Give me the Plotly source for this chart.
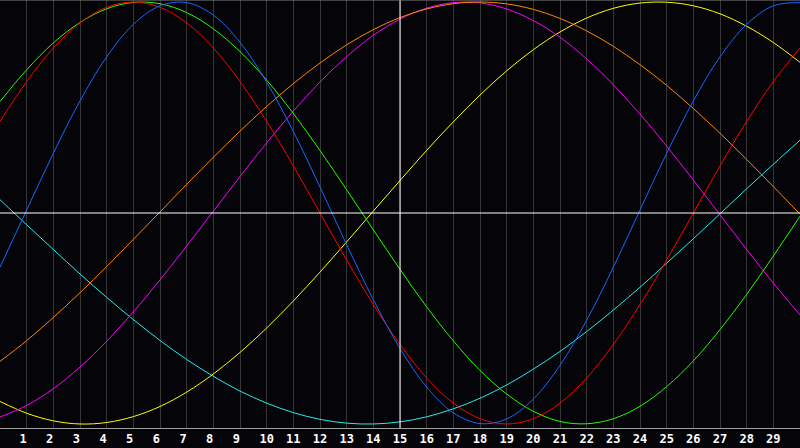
import plotly.graph_objects as go

# Day index along the x axis (0 = left edge, 30 = right edge)
days = list(range(0, 31))
tick_days = list(range(1, 30))
tick_labels = [str(d) if d >= 10 else str(d) + "\u00a0" for d in tick_days]

# Cycle values (-1 .. 1)
physical = [-0.257, 0.014, 0.283, 0.531, 0.740, 0.894, 0.982, 0.997, 0.938, 0.809,
            0.620, 0.386, 0.123, -0.150, -0.411, -0.642, -0.825, -0.947, -0.998, -0.976,
            -0.882, -0.722, -0.508, -0.257, 0.014, 0.283, 0.531, 0.740, 0.894, 0.982, 0.997]
emotional = [0.434, 0.623, 0.782, 0.901, 0.975, 1.000, 0.975, 0.901, 0.782, 0.623,
             0.434, 0.223, 0.000, -0.223, -0.434, -0.623, -0.782, -0.901, -0.975, -1.000,
             -0.975, -0.901, -0.782, -0.623, -0.434, -0.223, 0.000, 0.223, 0.434, 0.623, 0.782]
intellectual = [0.528, 0.679, 0.806, 0.903, 0.968, 0.998, 0.992, 0.950, 0.873, 0.765,
                0.630, 0.472, 0.296, 0.110, -0.080, -0.267, -0.445, -0.606, -0.746, -0.858,
                -0.940, -0.988, -0.999, -0.975, -0.916, -0.823, -0.701, -0.553, -0.386, -0.204, -0.015]
intuitive = [-0.967, -0.912, -0.833, -0.730, -0.608, -0.469, -0.317, -0.156, 0.008, 0.173,
             0.332, 0.483, 0.621, 0.741, 0.842, 0.919, 0.971, 0.997, 0.996, 0.967,
             0.912, 0.833, 0.730, 0.608, 0.469, 0.317, 0.156, -0.008, -0.173, -0.332, -0.483]
aesthetic = [-0.893, -0.949, -0.985, -1.000, -0.993, -0.965, -0.917, -0.849, -0.763, -0.661,
             -0.545, -0.417, -0.280, -0.137, 0.009, 0.154, 0.297, 0.432, 0.559, 0.674,
             0.774, 0.858, 0.924, 0.970, 0.995, 0.999, 0.982, 0.944, 0.885, 0.808, 0.714]
awareness = [-0.703, -0.605, -0.495, -0.378, -0.254, -0.125, 0.005, 0.136, 0.264, 0.388,
             0.505, 0.613, 0.711, 0.797, 0.869, 0.926, 0.967, 0.992, 1.000, 0.991,
             0.965, 0.922, 0.863, 0.790, 0.703, 0.605, 0.495, 0.378, 0.254, 0.125, -0.005]
spiritual = [0.063, -0.056, -0.173, -0.289, -0.400, -0.505, -0.604, -0.694, -0.774, -0.844,
             -0.901, -0.946, -0.978, -0.996, -1.000, -0.990, -0.966, -0.928, -0.878, -0.815,
             -0.740, -0.656, -0.562, -0.460, -0.352, -0.238, -0.122, -0.004, 0.115, 0.231, 0.345]

series = [
    ("Spiritual", spiritual, "#22eeee"),
    ("Aesthetic", aesthetic, "#ffff00"),
    ("Intuitive", intuitive, "#ff00ff"),
    ("Awareness", awareness, "#ff8800"),
    ("Intellectual", intellectual, "#22ff00"),
    ("Emotional", emotional, "#ff0000"),
    ("Physical", physical, "#1866ff"),
]

today = 15

fig = go.Figure()
for name, vals, color in series:
    fig.add_trace(go.Scatter(
        x=days, y=vals, mode="lines", name=name,
        line=dict(color=color, width=1, shape="spline", smoothing=1.0),
        hoverinfo="skip",
    ))

bg = "#050408"
fig.update_layout(
    width=800, height=448,
    margin=dict(l=0, r=0, t=0, b=20, pad=0),
    paper_bgcolor=bg, plot_bgcolor=bg,
    showlegend=False,
    xaxis=dict(
        range=[0, 30], tickvals=tick_days, ticktext=tick_labels,
        showgrid=True, gridcolor="#363636", gridwidth=1,
        zeroline=False, showline=True, linecolor="#a0a0a0", linewidth=1,
        ticks="", tickfont=dict(family="DejaVu Sans Mono", size=12, color="#ffffff", weight="bold"),
        fixedrange=True,
    ),
    yaxis=dict(
        range=[-1.019, 1.0095], showgrid=False, zeroline=False,
        showticklabels=False, ticks="", showline=True, linecolor="#808080", linewidth=1,
        fixedrange=True,
    ),
    shapes=[
        dict(type="line", xref="x", yref="paper", x0=today, x1=today, y0=0, y1=1,
             line=dict(color="#ffffff", width=1), layer="above"),
        dict(type="line", xref="paper", yref="y", x0=0, x1=1, y0=0, y1=0,
             line=dict(color="#ffffff", width=1), layer="above"),
        dict(type="line", xref="paper", yref="paper", x0=0, x1=1, y0=1, y1=1,
             line=dict(color="#808080", width=1), layer="above"),
    ],
)

fig.write_html(
    "out.html",
    config={"displayModeBar": False},
    post_script="document.body.style.margin='0';document.body.style.background='#050408';",
)
